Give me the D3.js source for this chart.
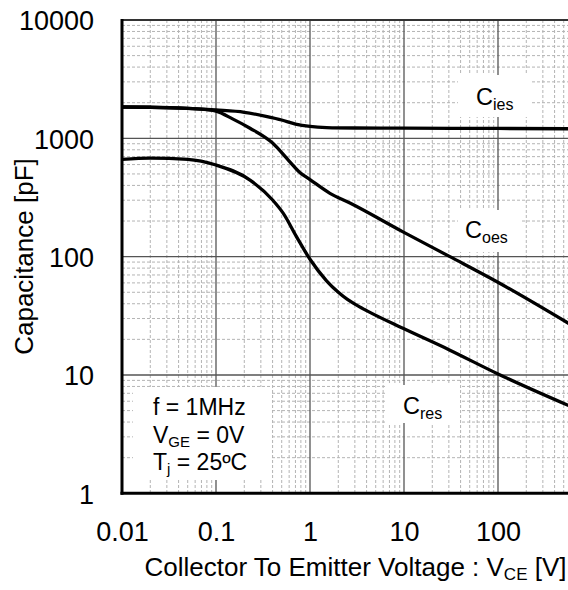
<!DOCTYPE html>
<html><head><meta charset="utf-8">
<script src="https://cdn.jsdelivr.net/npm/d3@7"></script>
<style>body{margin:0;background:#fff}svg{display:block;font-family:"Liberation Sans",Arial,sans-serif}</style>
</head><body><svg id="c" width="568" height="590"></svg>
<script>
const xTicks = [0.01, 0.1, 1, 10, 100];
const xTickLabels = ["0.01", "0.1", "1", "10", "100"];
const yTicks = [1, 10, 100, 1000, 10000];
const yTickLabels = ["1", "10", "100", "1000", "10000"];

const ciesV = [0.01, 0.02, 0.05, 0.1, 0.2, 0.35, 0.5, 0.7, 1, 1.5, 3, 10, 100, 600];
const ciesC = [1840, 1830, 1790, 1735, 1660, 1525, 1428, 1321, 1260, 1232, 1222, 1218, 1212, 1205];

const coesV = [0.01, 0.02, 0.05, 0.08, 0.1, 0.15, 0.23, 0.4, 0.6, 0.78, 1, 1.63, 2.66, 9.75, 30.8, 97.5, 600];
const coesC = [1840, 1830, 1790, 1745, 1695, 1460, 1217, 912, 643, 515, 448, 343, 284, 162, 100, 61.4, 26.5];

const cresV = [0.01, 0.02, 0.05, 0.1, 0.23, 0.4, 0.52, 0.72, 1, 1.5, 2.0, 2.5, 3.2, 4.0, 9.75, 30.8, 97.5, 600];
const cresC = [665, 681, 665, 595, 444, 301, 232, 147, 95, 62.5, 50, 43.5, 38.6, 35, 24.8, 16.2, 10.3, 5.4];

const seriesLabels = [
  {main: "C", sub: "ies", box: [458, 75, 74, 42], tx: 476, ty: 105},
  {main: "C", sub: "oes", box: [458, 210, 64, 42], tx: 465, ty: 238},
  {main: "C", sub: "res", box: [387, 385, 73, 38], tx: 403, ty: 414}
];

const L = 122, T = 20, B = 493.3, R = 592;
const svg = d3.select("#c");
const x = d3.scaleLog().domain([0.01, 1000]).range([L, R]);
const y = d3.scaleLog().domain([1, 10000]).range([B, T]);

svg.append("defs").append("clipPath").attr("id", "clip")
  .append("rect").attr("x", L).attr("y", T).attr("width", R - L).attr("height", B - T);

const isMajor = v => Math.abs(Math.log10(v) - Math.round(Math.log10(v))) < 1e-9;
const allX = x.ticks(); const allY = y.ticks();
const minorX = allX.filter(v => !isMajor(v)), majorX = allX.filter(isMajor);
const minorY = allY.filter(v => !isMajor(v)), majorY = allY.filter(isMajor);

const grid = svg.append("g").attr("clip-path", "url(#clip)");
grid.selectAll(".mx").data(minorX).join("line")
  .attr("x1", d => x(d)).attr("x2", d => x(d)).attr("y1", T).attr("y2", B)
  .attr("stroke", "#b4b4b4").attr("stroke-width", 1).attr("stroke-dasharray", "3,2");
grid.selectAll(".my").data(minorY).join("line")
  .attr("y1", d => y(d)).attr("y2", d => y(d)).attr("x1", L).attr("x2", R)
  .attr("stroke", "#b4b4b4").attr("stroke-width", 1).attr("stroke-dasharray", "3,2");
grid.selectAll(".Mx").data(majorX).join("line")
  .attr("x1", d => x(d)).attr("x2", d => x(d)).attr("y1", T).attr("y2", B)
  .attr("stroke", "#555").attr("stroke-width", 1.3);
grid.selectAll(".My").data(majorY).join("line")
  .attr("y1", d => y(d)).attr("y2", d => y(d)).attr("x1", L).attr("x2", R)
  .attr("stroke", "#555").attr("stroke-width", 1.3);

// annotation boxes (white backgrounds)
const ann = svg.append("g");
seriesLabels.forEach(s => {
  ann.append("rect").attr("x", s.box[0]).attr("y", s.box[1]).attr("width", s.box[2]).attr("height", s.box[3]).attr("fill", "#fff");
  const t = ann.append("text").attr("x", s.tx).attr("y", s.ty).attr("font-size", 23.5).attr("fill", "#000");
  t.append("tspan").text(s.main);
  t.append("tspan").attr("font-size", 16).attr("dy", 5).text(s.sub);
});
ann.append("rect").attr("x", 133).attr("y", 387).attr("width", 139).attr("height", 93).attr("fill", "#fff");
const cond = [
  {main: "f = 1MHz", sub: null, rest: null, ty: 415},
  {main: "V", sub: "GE", rest: " = 0V", ty: 443},
  {main: "T", sub: "j", rest: " = 25ºC", ty: 470}
];
cond.forEach(c => {
  const t = ann.append("text").attr("x", 153).attr("y", c.ty).attr("font-size", 23).attr("fill", "#000");
  t.append("tspan").text(c.main);
  if (c.sub) {
    t.append("tspan").attr("font-size", 15).attr("dy", 4).text(c.sub);
    t.append("tspan").attr("dy", -4).text(c.rest);
  }
});

// curves
const line = d3.line().x(d => x(d[0])).y(d => y(d[1])).curve(d3.curveMonotoneX);
const curves = svg.append("g").attr("clip-path", "url(#clip)");
[[ciesV, ciesC], [coesV, coesC], [cresV, cresC]].forEach(([vs, cs]) => {
  curves.append("path").datum(vs.map((v, i) => [v, cs[i]]))
    .attr("d", line).attr("fill", "none").attr("stroke", "#000").attr("stroke-width", 3.3)
    .attr("stroke-linejoin", "round");
});

// frame
svg.append("line").attr("x1", L).attr("x2", R).attr("y1", T).attr("y2", T).attr("stroke", "#333").attr("stroke-width", 2);
svg.append("line").attr("x1", L).attr("x2", L).attr("y1", T - 1).attr("y2", B + 1.5).attr("stroke", "#000").attr("stroke-width", 3);
svg.append("line").attr("x1", L - 1.5).attr("x2", R).attr("y1", B).attr("y2", B).attr("stroke", "#000").attr("stroke-width", 3);

// axes labels
const xa = svg.append("g").attr("transform", `translate(0,${B})`)
  .call(d3.axisBottom(x).tickValues(xTicks).tickSize(0).tickPadding(0)
    .tickFormat((d, i) => xTickLabels[i]));
xa.select(".domain").remove();
xa.selectAll("text").attr("font-size", 27).attr("font-family", "Liberation Sans, Arial, sans-serif")
  .attr("fill", "#000").attr("dy", null).attr("y", 48);

const ya = svg.append("g").attr("transform", `translate(${L},0)`)
  .call(d3.axisLeft(y).tickValues(yTicks).tickSize(0).tickPadding(28)
    .tickFormat((d, i) => yTickLabels[i]));
ya.select(".domain").remove();
ya.selectAll("text").attr("font-size", 27).attr("font-family", "Liberation Sans, Arial, sans-serif")
  .attr("fill", "#000").attr("dy", "0.36em");

// titles
svg.append("text").attr("transform", "translate(33,256.5) rotate(-90)")
  .attr("text-anchor", "middle").attr("font-size", 26).attr("fill", "#000").text("Capacitance [pF]");
const xt = svg.append("text").attr("x", 566.5).attr("y", 576).attr("text-anchor", "end").attr("font-size", 26).attr("fill", "#000");
xt.append("tspan").text("Collector To Emitter Voltage : V");
xt.append("tspan").attr("font-size", 17).attr("dy", 4).text("CE");
xt.append("tspan").attr("dy", -4).text(" [V]");
</script></body></html>
